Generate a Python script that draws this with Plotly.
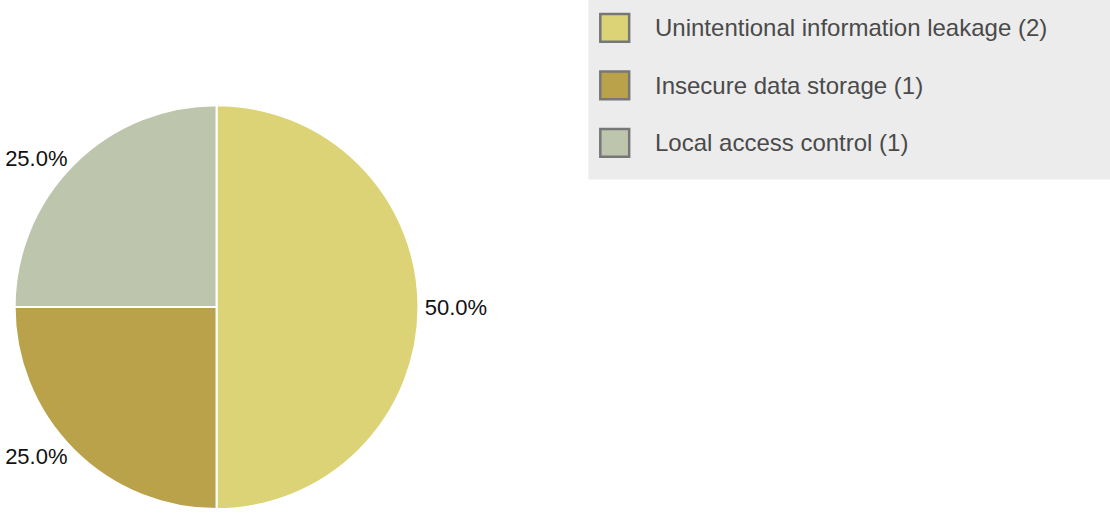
import plotly.graph_objects as go

labels = ["Unintentional information leakage", "Insecure data storage", "Local access control"]
counts = [2, 1, 1]
colors = ["#dbd376", "#b9a24a", "#bec5ad"]

W, H = 1110, 514
FONT = "Liberation Sans, Arial, sans-serif"

fig = go.Figure()
fig.add_trace(go.Pie(
    labels=labels,
    values=counts,
    sort=False,
    direction="clockwise",
    rotation=0,
    marker=dict(colors=colors, line=dict(color="white", width=2)),
    textposition="outside",
    texttemplate="%{percent:.1%}",
    textfont=dict(family=FONT, size=22, color="#111111"),
    showlegend=False,
    domain=dict(x=[9 / W, 416 / W], y=[1 / H, 408 / H]),
    hoverinfo="label+value+percent",
))

shapes = [dict(type="rect", xref="paper", yref="paper",
               x0=586 / W, x1=1.0, y0=1 - 181 / H, y1=1.0,
               fillcolor="#ececec", line=dict(width=0), layer="below")]
annotations = []
row_y = [28, 86, 144]
for lab, n, c, yc in zip(labels, counts, colors, row_y):
    shapes.append(dict(type="rect", xref="paper", yref="paper",
                       x0=598 / W, x1=627 / W, y0=1 - (yc + 14) / H, y1=1 - (yc - 14) / H,
                       fillcolor=c, line=dict(color="#777777", width=2.5)))
    annotations.append(dict(xref="paper", yref="paper", x=651 / W, y=1 - yc / H,
                            xanchor="left", yanchor="middle", showarrow=False,
                            text=f"{lab} ({n})",
                            font=dict(family=FONT, size=24, color="#4a4a4a")))

fig.update_layout(
    width=W, height=H,
    margin=dict(l=0, r=0, t=0, b=0),
    paper_bgcolor="white", plot_bgcolor="white",
    shapes=shapes, annotations=annotations,
    showlegend=False,
)
fig.write_html("out.html")
